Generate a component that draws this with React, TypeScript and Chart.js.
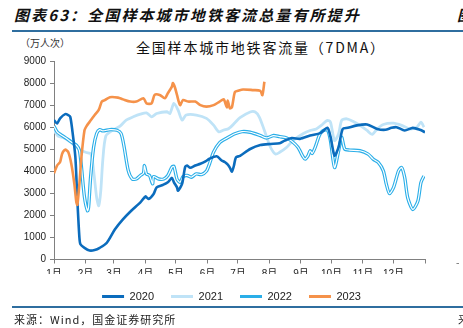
import React, { useEffect, useRef } from "react";
import { Chart, registerables } from "chart.js";

Chart.register(...registerables);

// ---------- data (day of year, value in 万人次) ----------
const monthStarts = [0, 31, 59, 90, 120, 151, 181, 212, 243, 273, 304, 334, 365];
const monthLabels = ["1月", "2月", "3月", "4月", "5月", "6月", "7月", "8月", "9月", "10月", "11月", "12月", ""];
const seriesNames = ["2020", "2021", "2022", "2023"];

const days2020 = [0, 3, 6, 11, 14, 16, 18, 21, 23, 25, 26, 30, 35, 40, 45, 52, 60, 68, 76, 85, 90, 93, 98, 101, 107, 112, 116, 118, 121, 122, 126, 129, 131, 134, 139, 144, 149, 153, 160, 165, 168, 171, 173, 175, 177, 179, 183, 193, 203, 213, 222, 227, 234, 242, 252, 262, 269, 272, 276, 280, 284, 289, 298, 308, 318, 326, 332, 337, 345, 353, 360, 365];
const vals2020 = [6320, 6170, 6400, 6590, 6550, 6470, 5860, 4650, 2670, 990, 690, 530, 410, 430, 530, 760, 1370, 1830, 2210, 2590, 2860, 2740, 2970, 3270, 3380, 3500, 3700, 3500, 3270, 3120, 3430, 4190, 4260, 4160, 4260, 4340, 4450, 4570, 4680, 4490, 4420, 4300, 4170, 3980, 4250, 4630, 4700, 5010, 5190, 5240, 5270, 5390, 5510, 5470, 5620, 5730, 5970, 5570, 4710, 5090, 5920, 5970, 6080, 6120, 5920, 5880, 5970, 6000, 5850, 5970, 5880, 5770];

const days2021 = [0, 4, 9, 16, 22, 26, 32, 36, 38, 40, 42, 44, 46, 48, 51, 58, 65, 71, 78, 85, 91, 96, 101, 111, 114, 118, 122, 126, 130, 140, 150, 157, 162, 167, 172, 178, 183, 193, 198, 202, 207, 213, 218, 222, 229, 235, 245, 252, 258, 263, 269, 272, 276, 280, 283, 288, 294, 301, 308, 313, 318, 324, 334, 342, 350, 357, 361, 364];
const vals2021 = [5850, 5590, 5530, 5330, 5100, 4950, 4850, 4800, 4400, 3600, 2800, 2440, 3100, 4500, 5600, 5870, 6050, 6320, 6470, 6590, 6650, 6470, 6620, 6700, 6620, 7080, 6780, 6320, 6550, 6550, 6400, 6090, 5790, 5870, 5940, 6200, 6430, 6690, 6690, 6460, 5850, 5090, 4780, 4860, 5090, 5390, 5700, 5850, 5920, 6080, 6310, 6230, 5390, 5700, 6310, 6380, 6270, 6080, 5850, 5670, 5920, 6120, 6180, 6080, 5920, 6000, 6230, 6000];

const days2022 = [0, 3, 6, 11, 17, 22, 25, 27, 30, 33, 34, 36, 39, 42, 45, 48, 55, 62, 66, 69, 73, 77, 81, 85, 88, 89, 91, 94, 97, 98, 103, 108, 112, 116, 118, 121, 124, 127, 131, 135, 140, 145, 150, 153, 157, 163, 170, 178, 185, 193, 203, 209, 216, 222, 229, 234, 240, 245, 247, 250, 252, 254, 257, 261, 264, 269, 272, 276, 280, 283, 286, 291, 301, 309, 314, 319, 324, 327, 330, 334, 339, 342, 345, 348, 353, 358, 361, 364];
const vals2022 = [6050, 5790, 5680, 5530, 5330, 5180, 4950, 4190, 2820, 2210, 2360, 3730, 5100, 5710, 5890, 5830, 5890, 5860, 5710, 5100, 4040, 3650, 3650, 3810, 3910, 4260, 3880, 3810, 3430, 3760, 3650, 3650, 3810, 4190, 4220, 3650, 3500, 3760, 3810, 3730, 3880, 3850, 4010, 4340, 4870, 5300, 5500, 5700, 5800, 5770, 5620, 5510, 5620, 5570, 5510, 5360, 5090, 4660, 4550, 4710, 4930, 4810, 5090, 5620, 5820, 5880, 5390, 4170, 4930, 5540, 5010, 4960, 4930, 4780, 4550, 4400, 4020, 3410, 2990, 3260, 4020, 4170, 3720, 2800, 2270, 2650, 3490, 3790];

const days2023 = [0, 3, 6, 8, 11, 14, 17, 20, 22, 23, 25, 27, 30, 32, 35, 40, 44, 47, 50, 55, 63, 68, 75, 81, 88, 91, 96, 99, 104, 109, 112, 116, 117, 119, 121, 124, 127, 132, 139, 144, 150, 157, 163, 167, 170, 171, 173, 175, 178, 181, 186, 196, 203, 205, 207];
const vals2023 = [3910, 4260, 4420, 4800, 4980, 4870, 4340, 3430, 2590, 2480, 3430, 4650, 5860, 6050, 6240, 6550, 6780, 7160, 7230, 7360, 7340, 7260, 7160, 7160, 7310, 7080, 7080, 7460, 7460, 7310, 7540, 7840, 8000, 7800, 7460, 7000, 7230, 7160, 7160, 7000, 6930, 7000, 7160, 7260, 6900, 7200, 6850, 6900, 7600, 7650, 7710, 7680, 7650, 7450, 8060];

const colors = ["#0b6cbd", "#bfe3f7", "#2aaee8", "#f5924a"];

const pts = (d: number[], v: number[]) => d.map((x, i) => ({ x, y: v[i] }));

export default function App() {
  const ref = useRef<HTMLCanvasElement>(null);

  useEffect(() => {
    const font = 'Arial, "Liberation Sans", "Noto Sans CJK SC", sans-serif';
    const chart = new Chart(ref.current as HTMLCanvasElement, {
      type: "line",
      data: {
        datasets: [
          { label: seriesNames[0], data: pts(days2020, vals2020), borderColor: colors[0], backgroundColor: colors[0], borderWidth: 2.6, order: 1 },
          { label: seriesNames[1], data: pts(days2021, vals2021), borderColor: colors[1], backgroundColor: colors[1], borderWidth: 2.8, order: 4 },
          { label: seriesNames[2], data: pts(days2022, vals2022), borderColor: colors[2], backgroundColor: colors[2], borderWidth: 3.4, order: 3 },
          { label: "", data: pts(days2022, vals2022), borderColor: "#ffffff", backgroundColor: "#ffffff", borderWidth: 1.2, order: 2 },
          { label: seriesNames[3], data: pts(days2023, vals2023), borderColor: colors[3], backgroundColor: colors[3], borderWidth: 2.6, order: 0 },
        ] as any,
      },
      options: {
        responsive: false,
        animation: false,
        devicePixelRatio: 1,
        elements: { point: { radius: 0 }, line: { tension: 0.25, capBezierPoints: true } },
        layout: { padding: { left: 0, right: 0, top: 61, bottom: 16 } },
        plugins: {
          title: { display: false },
          tooltip: { enabled: false },
          legend: {
            position: "bottom",
            labels: {
              boxWidth: 22,
              boxHeight: 3,
              padding: 17,
              color: "#222",
              font: { size: 11, family: font },
              filter: (item: any) => item.text !== "",
              sort: (a: any, b: any) => a.datasetIndex - b.datasetIndex,
              generateLabels: (c: any) =>
                (Chart.defaults.plugins.legend.labels.generateLabels as any)(c).map((it: any) => ({ ...it, lineWidth: 0 })),
            },
          },
        },
        scales: {
          x: {
            type: "linear",
            min: 0,
            max: 365,
            afterBuildTicks: (s: any) => {
              s.ticks = monthStarts.map((v) => ({ value: v }));
            },
            afterFit: (s: any) => {
              s.height = 14.5;
            },
            ticks: {
              autoSkip: false,
              maxRotation: 0,
              padding: 5,
              color: "#222",
              font: { size: 10, family: font },
              callback: (v: any) => monthLabels[monthStarts.indexOf(Number(v))] ?? "",
            },
            grid: { drawOnChartArea: false, drawTicks: true, tickLength: 4, color: "#808080" },
            border: { display: true, color: "#808080" },
          },
          y: {
            type: "linear",
            min: 0,
            max: 9000,
            afterFit: (s: any) => {
              s.width = 54;
            },
            ticks: { stepSize: 1000, padding: 4, color: "#222", font: { size: 10, family: font }, callback: (v: any) => String(v) },
            grid: { drawOnChartArea: false, drawTicks: true, tickLength: 4, color: "#808080" },
            border: { display: true, color: "#808080" },
          },
          y2: {
            type: "linear",
            position: "right",
            display: true,
            afterFit: (s: any) => {
              s.width = 38;
            },
            ticks: { display: false },
            grid: { display: false, drawTicks: false },
            border: { display: false },
          },
        },
      } as any,
    });
    return () => chart.destroy();
  }, []);

  const cjk = '"Noto Sans CJK SC", "Liberation Sans", sans-serif';

  return (
    <div style={{ position: "fixed", left: 0, top: 0, width: 463, height: 328, background: "#fff", overflow: "hidden" }}>
      <div style={{ position: "absolute", left: 14, top: 5, fontFamily: cjk, fontSize: 15, fontWeight: 700, fontStyle: "italic", letterSpacing: 2.1, color: "#111", whiteSpace: "nowrap", lineHeight: "20px" }}>
        图表63：全国样本城市地铁客流总量有所提升
      </div>
      <div style={{ position: "absolute", left: 457, top: 5, fontFamily: cjk, fontSize: 15, fontWeight: 700, fontStyle: "italic", color: "#111", lineHeight: "20px" }}>图</div>
      <div style={{ position: "absolute", left: 12, top: 30, width: 451, height: 2, background: "#2f6e9f" }} />
      <div style={{ position: "absolute", left: 20, top: 36, fontFamily: cjk, fontSize: 10, color: "#333", whiteSpace: "nowrap", lineHeight: "14px" }}>
        （万人次）
      </div>
      <div style={{ position: "absolute", left: 136, top: 37, fontFamily: cjk, fontSize: 14, letterSpacing: 1.8, color: "#111", whiteSpace: "nowrap", lineHeight: "20px" }}>
        全国样本城市地铁客流量（7DMA）
      </div>
      <canvas ref={ref} width={463} height={328} style={{ position: "absolute", left: 0, top: 0, width: 463, height: 328 }} />
      <div style={{ position: "absolute", left: 456, top: 255, fontFamily: cjk, fontSize: 10, color: "#555", lineHeight: "14px" }}>-</div>
      <div style={{ position: "absolute", left: 12, top: 306, width: 451, height: 2, background: "#2f6e9f" }} />
      <div style={{ position: "absolute", left: 14, top: 311, fontFamily: cjk, fontSize: 11, letterSpacing: 1, color: "#222", whiteSpace: "nowrap", lineHeight: "16px" }}>
        来源：Wind，国金证券研究所
      </div>
      <div style={{ position: "absolute", left: 458, top: 311, fontFamily: cjk, fontSize: 11, color: "#222", lineHeight: "16px" }}>来</div>
    </div>
  );
}
